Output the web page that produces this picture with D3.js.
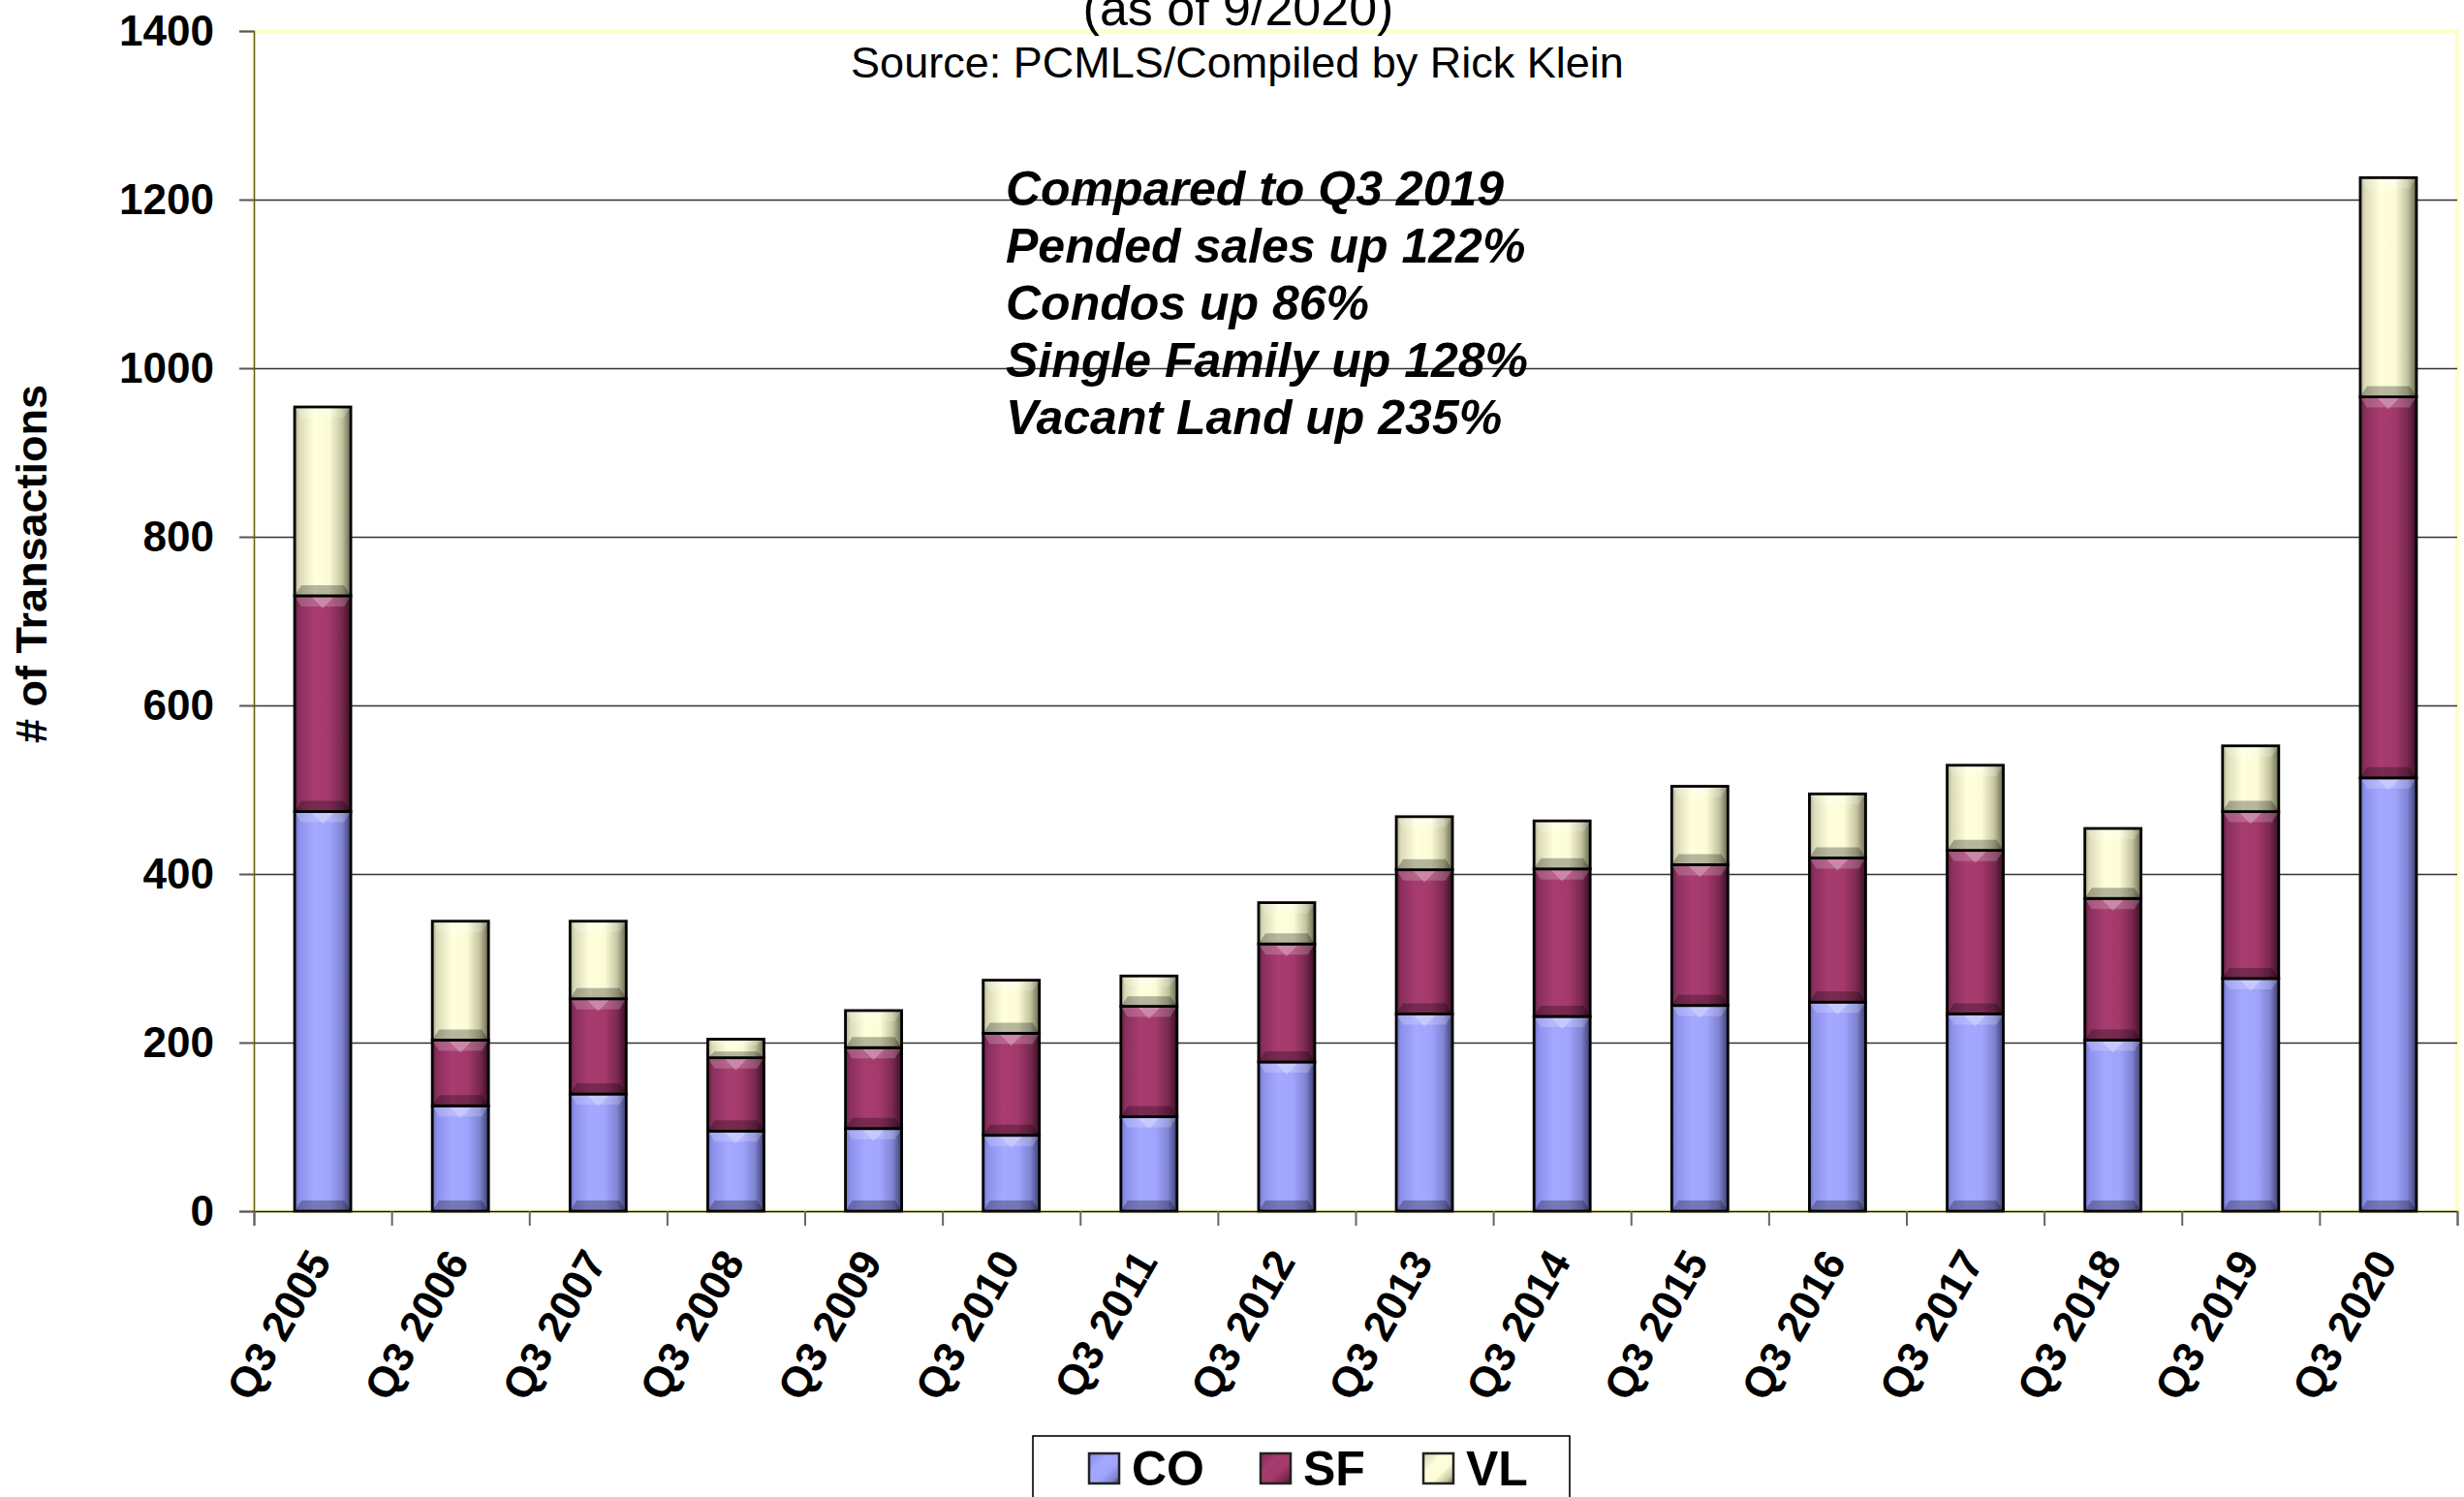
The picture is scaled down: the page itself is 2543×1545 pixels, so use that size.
<!DOCTYPE html>
<html>
<head>
<meta charset="utf-8">
<script src="https://cdn.jsdelivr.net/npm/d3@7"></script>
<style>
  html, body { margin: 0; padding: 0; background: #ffffff; }
  svg { display: block; }
  text { font-family: "Liberation Sans", Arial, Helvetica, sans-serif; }
</style>
</head>
<body>
<svg id="chart" width="2543" height="1545"></svg>
<script>
// ---- data ----
const categories = ["Q3 2005","Q3 2006","Q3 2007","Q3 2008","Q3 2009","Q3 2010","Q3 2011","Q3 2012",
                    "Q3 2013","Q3 2014","Q3 2015","Q3 2016","Q3 2017","Q3 2018","Q3 2019","Q3 2020"];
const coValues = [474,125,139,95,98,90,112,177,234,231,244,248,234,203,276,514];
const sfValues = [256,78,113,87,96,121,131,140,171,175,167,171,194,168,198,452];
const vlValues = [224,141,92,22,44,63,36,49,63,57,93,76,101,83,78,260];
const seriesNames = ["CO","SF","VL"];
const yTicks = [0,200,400,600,800,1000,1200,1400];
const titleLine = "(as of 9/2020)";
const sourceLine = "Source: PCMLS/Compiled by Rick Klein";
const noteLines = ["Compared to Q3 2019","Pended sales up 122%","Condos up 86%","Single Family up 128%","Vacant Land up 235%"];
const yAxisTitle = "# of Transactions";

// ---- styles ----
const gradStops = {
  CO: [["0%","#6A6EC0"],["8%","#8C90EA"],["35%","#A4A8FF"],["62%","#A0A4FC"],["84%","#7F83D2"],["100%","#3C3F6E"]],
  SF: [["0%","#62203F"],["8%","#8A2F5E"],["35%","#A83C70"],["62%","#A3396B"],["84%","#7A2850"],["100%","#3A1026"]],
  VL: [["0%","#A9A98A"],["8%","#DADAB8"],["35%","#FFFFDC"],["62%","#FBFBD5"],["84%","#C4C4A0"],["100%","#68684F"]]
};

const svg = d3.select("#chart");
const plot = {left: 262, right: 2536, top: 32, bottom: 1250};

const defs = svg.append("defs");
seriesNames.forEach(s => {
  const g = defs.append("linearGradient").attr("id","grad-"+s)
    .attr("x1","0%").attr("x2","100%").attr("y1","0%").attr("y2","0%");
  gradStops[s].forEach(st => g.append("stop").attr("offset", st[0]).attr("stop-color", st[1]));
  const gl = defs.append("linearGradient").attr("id","lgrad-"+s)
    .attr("x1","0%").attr("x2","100%").attr("y1","0%").attr("y2","100%");
  gradStops[s].forEach(st => gl.append("stop").attr("offset", st[0]).attr("stop-color", st[1]));
});

// ---- scales ----
const x = d3.scaleBand().domain(categories).range([plot.left, plot.right]).padding(0);
const xEdge = d3.scaleLinear().domain([0, categories.length]).range([plot.left, plot.right]);
const y = d3.scaleLinear().domain([0, 1400]).range([plot.bottom, plot.top]);

// ---- plot area ----
svg.append("rect").attr("x", plot.left).attr("y", plot.top)
  .attr("width", plot.right - plot.left).attr("height", plot.bottom - plot.top)
  .attr("fill", "#ffffff").attr("stroke", "#FFFFC8").attr("stroke-width", 4);

// gridlines
svg.append("g").attr("transform", `translate(${plot.left},0)`)
  .call(d3.axisLeft(y).tickValues(yTicks.filter(v => v > 0 && v < 1400))
        .tickSize(-(plot.right - plot.left)).tickFormat(""))
  .call(g => g.select(".domain").remove())
  .call(g => g.selectAll("line").attr("stroke", "#333").attr("stroke-width", 1.4));

// y axis
svg.append("g").attr("transform", `translate(${plot.left},0)`)
  .call(d3.axisLeft(y).tickValues(yTicks).tickSize(15).tickPadding(26).tickFormat(d3.format("d")))
  .call(g => g.select(".domain").attr("stroke", "#5C5C20").attr("stroke-width", 1.5))
  .call(g => g.selectAll(".tick line").attr("stroke", "#555").attr("stroke-width", 2))
  .call(g => g.selectAll(".tick text").attr("font-size", 44).attr("font-weight", "bold")
        .attr("fill", "#000").attr("font-family", "'Liberation Sans', Arial, sans-serif"));

// ---- stacked bars ----
const rows = categories.map((c, i) => ({cat: c, CO: coValues[i], SF: sfValues[i], VL: vlValues[i]}));
const stacked = d3.stack().keys(seriesNames)(rows);
const barW = 58;

const layers = svg.append("g").selectAll("g").data(stacked).join("g");
layers.each(function(layer) {
  const key = layer.key;
  const g = d3.select(this);
  const segs = g.selectAll("g.seg").data(layer).join("g").attr("class", "seg");
  segs.each(function(d) {
    const s = d3.select(this);
    const x0 = x(d.data.cat) + x.bandwidth() / 2 - barW / 2;
    const x1 = x0 + barW;
    const yt = y(d[1]), yb = y(d[0]);
    const h = yb - yt;
    s.append("rect").attr("x", x0).attr("y", yt).attr("width", barW).attr("height", h)
      .attr("fill", `url(#grad-${key})`);
    const b = Math.min(11, h / 3);
    const inset = barW * 0.12;
    s.append("path")
      .attr("d", `M${x0},${yt} L${x1},${yt} L${x1 - inset},${yt + b} L${x0 + inset},${yt + b} Z`)
      .attr("fill", "#ffffff").attr("opacity", 0.2);
    s.append("path")
      .attr("d", `M${x0 + barW*0.3},${yt + 1} L${x1 - barW*0.3},${yt + 1} L${(x0 + x1)/2},${yt + b + 2} Z`)
      .attr("fill", "#ffffff").attr("opacity", 0.25);
    s.append("path")
      .attr("d", `M${x0},${yb} L${x1},${yb} L${x1 - inset},${yb - b} L${x0 + inset},${yb - b} Z`)
      .attr("fill", "#000000").attr("opacity", 0.28);
    s.append("rect").attr("x", x0).attr("y", yt).attr("width", barW).attr("height", h)
      .attr("fill", "none").attr("stroke", "#000").attr("stroke-width", 2.8);
  });
});

// ---- x axis ----
svg.append("g").attr("transform", `translate(0,${plot.bottom})`)
  .call(d3.axisBottom(xEdge).tickValues(d3.range(categories.length + 1)).tickSize(15).tickFormat(""))
  .call(g => g.select(".domain").attr("stroke", "#111").attr("stroke-width", 1.6))
  .call(g => g.selectAll(".tick line").attr("stroke", "#666").attr("stroke-width", 2));

svg.append("g").selectAll("text").data(categories).join("text")
  .attr("transform", d => `translate(${x(d) + x.bandwidth() / 2 + 10},1302) rotate(-60)`)
  .attr("text-anchor", "end")
  .attr("font-size", 44).attr("font-weight", "bold").attr("fill", "#000")
  .text(d => d);

// ---- titles ----
svg.append("text").attr("x", 1278).attr("y", 26).attr("text-anchor", "middle")
  .attr("font-size", 52).attr("fill", "#000").text(titleLine);
svg.append("text").attr("x", 1277).attr("y", 80).attr("text-anchor", "middle")
  .attr("font-size", 45).attr("fill", "#000").text(sourceLine);

svg.append("g").selectAll("text").data(noteLines).join("text")
  .attr("x", 1038).attr("y", (d, i) => 212 + i * 59)
  .attr("font-size", 50).attr("font-weight", "bold").attr("font-style", "italic")
  .attr("fill", "#000").text(d => d);

svg.append("text").attr("transform", "translate(48,582) rotate(-90)")
  .attr("text-anchor", "middle").attr("font-size", 45).attr("font-weight", "bold")
  .attr("fill", "#000").text(yAxisTitle);

// ---- legend ----
const legend = svg.append("g");
legend.append("rect").attr("x", 1066).attr("y", 1482).attr("width", 554).attr("height", 90)
  .attr("fill", "#fff").attr("stroke", "#000").attr("stroke-width", 1.6);
const legendItems = legend.selectAll("g.item").data(seriesNames).join("g").attr("class", "item")
  .attr("transform", (d, i) => `translate(${[1124, 1301, 1469][i]},1500)`);
legendItems.append("rect").attr("width", 31).attr("height", 31)
  .attr("fill", d => `url(#lgrad-${d})`).attr("stroke", "#222").attr("stroke-width", 2.5);
legendItems.append("text").attr("x", 44).attr("y", 33)
  .attr("font-size", 50).attr("font-weight", "bold").attr("fill", "#000").text(d => d);
</script>
</body>
</html>
